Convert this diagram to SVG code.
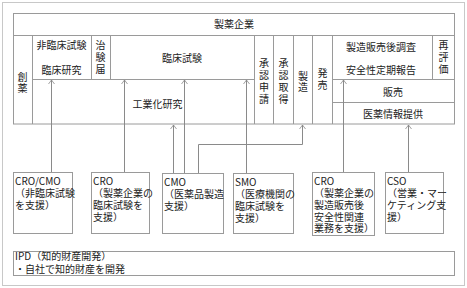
<svg xmlns="http://www.w3.org/2000/svg" width="467" height="288" viewBox="0 0 467 288">
<defs>
<style>
text{font-family:"Noto Sans CJK JP","Noto Sans",sans-serif;font-size:10px;fill:#222}
.c{text-anchor:middle}
.v{writing-mode:vertical-rl;text-anchor:middle}
.tb{fill:none;stroke:#9a9a9a;stroke-width:1}
.bx{fill:#fff;stroke:#9a9a9a;stroke-width:1}
.ar{fill:none;stroke:#8a8a8a;stroke-width:1;marker-end:url(#ah)}
</style>
<marker id="ah" markerUnits="userSpaceOnUse" markerWidth="8" markerHeight="8" refX="0" refY="0" viewBox="-5 -4 6 8" orient="auto">
<path d="M-4,-3 L0,0 L-4,3" fill="none" stroke="#8a8a8a" stroke-width="0.8"/>
</marker>
</defs>
<rect x="0" y="0" width="467" height="288" fill="#fff"/>
<rect x="2.5" y="2.5" width="462" height="283" fill="none" stroke="#c8c8c8"/>
<g id="table">
<rect class="tb" x="13.5" y="13.5" width="441" height="110.5"/>
<path class="tb" d="M13.5,35.5H454.5M32.5,35.5V124M254.5,35.5V124M273.5,35.5V124M293.5,35.5V124M312.5,35.5V124M332.5,35.5V124M91.5,35.5V79.5M110.5,35.5V79.5M432.5,35.5V79.5M32.5,79.5H254.5M332.5,79.5H454.5M332.5,102.5H454.5"/>
<text class="c" x="234" y="28">製薬企業</text>
<text class="v" x="22.5" y="83" letter-spacing="1">創薬</text>
<text class="c" x="61.5" y="49">非臨床試験</text>
<text class="c" x="61.5" y="74">臨床研究</text>
<text class="v" x="100.5" y="58" letter-spacing="2">治験届</text>
<text class="c" x="182" y="62">臨床試験</text>
<text class="c" x="157.5" y="107.5">工業化研究</text>
<text class="v" x="264" y="82" letter-spacing="2">承認申請</text>
<text class="v" x="283.5" y="82" letter-spacing="2">承認取得</text>
<text class="v" x="303" y="82" letter-spacing="1">製造</text>
<text class="v" x="322.5" y="80" letter-spacing="2">発売</text>
<text class="c" x="381" y="51">製造販売後調査</text>
<text class="c" x="381" y="74">安全性定期報告</text>
<text class="v" x="443.5" y="58.5" letter-spacing="2">再評価</text>
<text class="c" x="393" y="95.5">販売</text>
<text class="c" x="393" y="117.5">医薬情報提供</text>
</g>
<g id="connectors">
<path class="ar" d="M51.5,172V80"/>
<path class="ar" d="M124.5,172V80"/>
<path class="ar" d="M173.5,173V125"/>
<path class="ar" d="M184.5,173V80"/>
<path class="ar" d="M198.5,173V144.5H302.5V125"/>
<path class="ar" d="M246.5,173V80"/>
<path class="ar" d="M343.5,172V80"/>
<path class="ar" d="M408.5,172V125"/>
</g>
<g id="cro-cmo">
<rect class="bx" x="13.5" y="172.5" width="59" height="61"/>
<text x="15" y="185">CRO/CMO<tspan x="15" dy="12">（非臨床試験</tspan><tspan x="15" dy="11.5">を支援）</tspan></text>
</g>
<g id="cro1">
<rect class="bx" x="91.5" y="172.5" width="58" height="61"/>
<text x="93" y="185">CRO<tspan x="93" dy="12">（製薬企業の</tspan><tspan x="93" dy="12">臨床試験を</tspan><tspan x="93" dy="12">支援）</tspan></text>
</g>
<g id="cmo">
<rect class="bx" x="162.5" y="173.5" width="61" height="60"/>
<text x="164" y="185.5">CMO<tspan x="164" dy="12">（医薬品製造</tspan><tspan x="164" dy="12">支援）</tspan></text>
</g>
<g id="smo">
<rect class="bx" x="233.5" y="173.5" width="60" height="60"/>
<text x="235" y="185.5">SMO<tspan x="235" dy="12">（医療機関の</tspan><tspan x="235" dy="12">臨床試験を</tspan><tspan x="235" dy="12">支援）</tspan></text>
</g>
<g id="cro2">
<rect class="bx" x="312.5" y="172.5" width="62" height="63"/>
<text x="314" y="185">CRO<tspan x="314" dy="12">（製薬企業の</tspan><tspan x="314" dy="12">製造販売後</tspan><tspan x="314" dy="11.5">安全性関連</tspan><tspan x="314" dy="11.5">業務を支援）</tspan></text>
</g>
<g id="cso">
<rect class="bx" x="385.5" y="172.5" width="58" height="61"/>
<text x="387" y="185">CSO<tspan x="387" dy="12">（営業・マー</tspan><tspan x="387" dy="12">ケティング支</tspan><tspan x="387" dy="12">援）</tspan></text>
</g>
<g id="ipd">
<rect class="bx" x="13.5" y="251.5" width="441" height="24"/>
<text x="15" y="259.5">IPD（知的財産開発）<tspan x="15" dy="13.5">・自社で知的財産を開発</tspan></text>
</g>
</svg>
